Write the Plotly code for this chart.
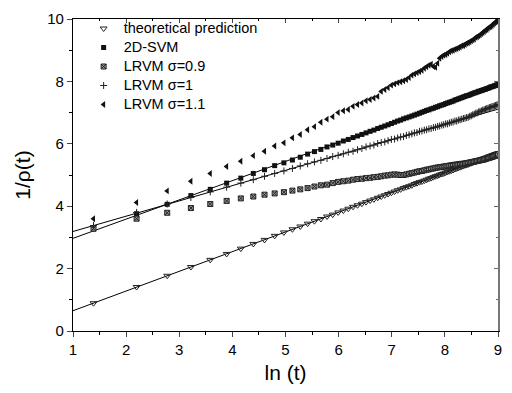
import plotly.graph_objects as go

# ln(t) positions of the samples
ln_t = [1.386, 2.197, 2.773, 3.219, 3.584, 3.892, 4.159, 4.394, 4.605, 4.796,
        4.970, 5.130, 5.278, 5.416, 5.545, 5.666, 5.781, 5.889, 5.991, 6.089,
        6.182, 6.271, 6.356, 6.438, 6.516, 6.592, 6.664, 6.735, 6.802, 6.868,
        6.931, 6.993, 7.053, 7.111, 7.167, 7.222, 7.275, 7.327, 7.378, 7.427,
        7.475, 7.522, 7.568, 7.613, 7.657, 7.700, 7.742, 7.784, 7.824, 7.864,
        7.902, 7.941, 7.978, 8.015, 8.051, 8.086, 8.121, 8.155, 8.189, 8.222,
        8.254, 8.286, 8.318, 8.349, 8.379, 8.409, 8.439, 8.468, 8.497, 8.525,
        8.553, 8.581, 8.608, 8.635, 8.661, 8.688, 8.713, 8.739, 8.764, 8.789,
        8.813, 8.838, 8.862, 8.885, 8.909, 8.932, 8.955, 8.977, 9.000]

theory = [0.89, 1.41, 1.77, 2.05, 2.28, 2.47, 2.64, 2.79, 2.92, 3.05,
          3.16, 3.26, 3.35, 3.44, 3.52, 3.59, 3.67, 3.73, 3.80, 3.86,
          3.92, 3.98, 4.03, 4.08, 4.13, 4.18, 4.22, 4.27, 4.31, 4.35,
          4.39, 4.43, 4.47, 4.51, 4.54, 4.58, 4.61, 4.64, 4.67, 4.71,
          4.74, 4.77, 4.79, 4.82, 4.85, 4.88, 4.90, 4.93, 4.96, 4.98,
          5.01, 5.03, 5.05, 5.08, 5.10, 5.12, 5.14, 5.16, 5.19, 5.21,
          5.23, 5.25, 5.27, 5.29, 5.31, 5.32, 5.34, 5.36, 5.38, 5.40,
          5.42, 5.43, 5.45, 5.47, 5.48, 5.50, 5.52, 5.53, 5.55, 5.56,
          5.58, 5.60, 5.61, 5.63, 5.64, 5.66, 5.67, 5.68, 5.70]

svm2d = [3.27, 3.76, 4.06, 4.34, 4.54, 4.74, 4.90, 5.05, 5.17, 5.30,
         5.39, 5.48, 5.57, 5.67, 5.75, 5.82, 5.90, 5.96, 6.02, 6.09,
         6.14, 6.20, 6.25, 6.30, 6.35, 6.40, 6.44, 6.49, 6.53, 6.57,
         6.61, 6.65, 6.69, 6.73, 6.76, 6.80, 6.83, 6.86, 6.89, 6.92,
         6.95, 6.98, 7.01, 7.04, 7.07, 7.09, 7.12, 7.14, 7.17, 7.19,
         7.22, 7.24, 7.26, 7.29, 7.31, 7.33, 7.35, 7.37, 7.40, 7.42,
         7.44, 7.46, 7.48, 7.50, 7.52, 7.54, 7.55, 7.57, 7.59, 7.61,
         7.63, 7.64, 7.66, 7.68, 7.69, 7.71, 7.72, 7.74, 7.75, 7.77,
         7.78, 7.80, 7.82, 7.83, 7.84, 7.86, 7.87, 7.89, 7.90]

lrvm_09 = [3.28, 3.60, 3.79, 3.94, 4.07, 4.17, 4.25, 4.31, 4.37, 4.41,
           4.45, 4.50, 4.54, 4.58, 4.63, 4.67, 4.69, 4.74, 4.78, 4.80,
           4.82, 4.85, 4.87, 4.88, 4.90, 4.91, 4.93, 4.94, 4.96, 4.98,
           4.99, 5.01, 5.02, 5.01, 5.00, 5.00, 5.02, 5.04, 5.06, 5.08,
           5.10, 5.12, 5.13, 5.15, 5.17, 5.18, 5.20, 5.21, 5.23, 5.24,
           5.25, 5.26, 5.27, 5.28, 5.29, 5.30, 5.31, 5.32, 5.33, 5.33,
           5.34, 5.35, 5.36, 5.36, 5.37, 5.38, 5.39, 5.40, 5.41, 5.42,
           5.43, 5.44, 5.45, 5.46, 5.47, 5.48, 5.49, 5.50, 5.51, 5.53,
           5.54, 5.55, 5.57, 5.58, 5.59, 5.61, 5.62, 5.64, 5.66]

lrvm_10 = [3.38, 3.80, 4.07, 4.28, 4.46, 4.61, 4.74, 4.85, 4.96, 5.05,
           5.13, 5.21, 5.29, 5.36, 5.42, 5.47, 5.53, 5.59, 5.63, 5.68,
           5.73, 5.76, 5.81, 5.85, 5.90, 5.93, 5.96, 6.01, 6.04, 6.06,
           6.10, 6.14, 6.15, 6.19, 6.22, 6.23, 6.27, 6.29, 6.32, 6.35,
           6.36, 6.40, 6.41, 6.44, 6.45, 6.48, 6.49, 6.52, 6.53, 6.56,
           6.57, 6.60, 6.61, 6.64, 6.64, 6.67, 6.69, 6.70, 6.73, 6.73,
           6.76, 6.77, 6.79, 6.81, 6.82, 6.84, 6.85, 6.88, 6.90, 6.93,
           6.95, 6.98, 6.99, 7.02, 7.04, 7.05, 7.08, 7.09, 7.11, 7.13,
           7.14, 7.16, 7.17, 7.19, 7.20, 7.21, 7.23, 7.24, 7.26]

lrvm_11 = [3.60, 4.12, 4.49, 4.80, 5.05, 5.27, 5.44, 5.62, 5.76, 5.93,
           6.03, 6.19, 6.30, 6.45, 6.55, 6.69, 6.79, 6.87, 7.00, 7.06,
           7.10, 7.20, 7.26, 7.31, 7.38, 7.42, 7.47, 7.52, 7.68, 7.74,
           7.80, 7.88, 7.92, 7.96, 7.99, 8.02, 8.06, 8.12, 8.20, 8.24,
           8.28, 8.32, 8.36, 8.42, 8.47, 8.52, 8.55, 8.48, 8.45, 8.58,
           8.74, 8.80, 8.84, 8.86, 8.90, 8.95, 8.98, 9.00, 9.03, 9.05,
           9.08, 9.10, 9.14, 9.15, 9.18, 9.22, 9.24, 9.27, 9.30, 9.33,
           9.36, 9.41, 9.43, 9.46, 9.49, 9.53, 9.57, 9.60, 9.64, 9.66,
           9.70, 9.74, 9.76, 9.79, 9.83, 9.87, 9.90, 9.93, 9.98]

# fitted straight lines (end points at ln t = 1 and 9)
fit_x = [1, 9]
fit_theory = [0.65, 5.70]
fit_svm2d = [2.97, 7.90]
fit_lrvm_10 = [3.19, 7.11]

x_ticks = [1, 2, 3, 4, 5, 6, 7, 8, 9]
y_ticks = [0, 2, 4, 6, 8, 10]

fig = go.Figure()

for fy in (fit_theory, fit_svm2d, fit_lrvm_10):
    fig.add_trace(go.Scatter(x=fit_x, y=fy, mode="lines",
                             line=dict(color="black", width=1),
                             showlegend=False, hoverinfo="skip"))

series = [
    ("theoretical prediction", theory, dict(symbol="triangle-down-open", size=6, color="#222",
                                            line=dict(width=1, color="#222"))),
    ("2D-SVM", svm2d, dict(symbol="square", size=5, color="#111")),
    ("LRVM σ=0.9", lrvm_09, dict(symbol="square-x", size=5, color="#999",
                                 line=dict(width=1, color="#222"))),
    ("LRVM σ=1", lrvm_10, dict(symbol="cross-thin-open", size=5, color="#222",
                               line=dict(width=1, color="#222"))),
    ("LRVM σ=1.1", lrvm_11, dict(symbol="triangle-left", size=6, color="#111")),
]
for name, ys, mk in series:
    fig.add_trace(go.Scatter(x=ln_t, y=ys, mode="markers",
                             name='<span style="font-size:14.5px">' + name + "</span>",
                             marker=mk))

font = "Liberation Sans, Arial, sans-serif"
fig.update_layout(
    width=512, height=393,
    margin=dict(l=73, r=10, t=11, b=62),
    paper_bgcolor="white", plot_bgcolor="white",
    font=dict(family=font, color="black", size=14),
    showlegend=True,
    legend=dict(x=0.025, y=1.016, xanchor="left", yanchor="top",
                bgcolor="rgba(0,0,0,0)", font=dict(size=11, family=font),
                itemwidth=30, tracegroupgap=0),
    xaxis=dict(range=[1, 9], tickmode="array", tickvals=x_ticks, ticks="outside", ticklen=5,
               minor=dict(dtick=0.5, tick0=1, ticks="outside", ticklen=3, tickcolor="black"),
               showline=True, linecolor="black", linewidth=1.2, showgrid=False,
               zeroline=False, tickfont=dict(size=15), ticklabeloverflow="allow",
               title=dict(text="ln (t)", font=dict(size=21), standoff=8)),
    yaxis=dict(range=[0, 10], tickmode="array", tickvals=y_ticks, ticks="outside", ticklen=5,
               minor=dict(dtick=1, tick0=0, ticks="outside", ticklen=3, tickcolor="black"),
               showline=True, linecolor="black", linewidth=1.2, showgrid=False,
               zeroline=False, tickfont=dict(size=15), ticklabeloverflow="allow",
               title=dict(text="1/ρ(t)", font=dict(size=21), standoff=10)),
    xaxis2=dict(range=[1, 9], tickmode="array", tickvals=x_ticks, overlaying="x", side="top",
                ticks="inside", ticklen=4, showticklabels=False,
                minor=dict(dtick=0.5, tick0=1, ticks="inside", ticklen=2, tickcolor="black"),
                showline=True, linecolor="black", linewidth=1, showgrid=False,
                zeroline=False),
    yaxis2=dict(range=[0, 10], tickmode="array", tickvals=y_ticks, overlaying="y", side="right",
                ticks="inside", ticklen=4, showticklabels=False,
                minor=dict(dtick=1, tick0=0, ticks="inside", ticklen=2, tickcolor="#666"),
                tickcolor="#666",
                showline=True, linecolor="#777", linewidth=2, showgrid=False,
                zeroline=False),
)
# invisible trace so the mirror axes are drawn
fig.add_trace(go.Scatter(x=[None], y=[None], xaxis="x2", yaxis="y2",
                         showlegend=False, hoverinfo="skip"))

fig.write_html("out.html")
